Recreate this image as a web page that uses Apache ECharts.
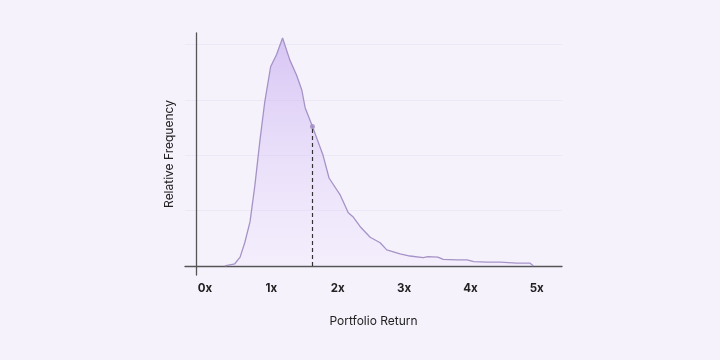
<!DOCTYPE html>
<html>
<head>
<meta charset="utf-8">
<style>
html,body{margin:0;padding:0;background:#f6f2fc;}
#chart{width:720px;height:360px;}
</style>
<script src="https://cdn.jsdelivr.net/npm/echarts@6/dist/echarts.min.js"></script>
</head>
<body>
<div id="chart"></div>
<script>
// Portfolio return multiples (x) and relative frequency (y)
const returns = [0.30,0.45,0.53,0.60,0.68,0.75,0.83,0.90,0.99,1.08,1.17,1.28,1.38,1.46,1.51,1.62,1.78,1.87,2.04,2.16,2.23,2.34,2.49,2.64,2.74,2.94,3.09,3.29,3.36,3.51,3.59,3.80,3.95,4.05,4.25,4.45,4.70,4.90,4.95];
const frequency = [0.00,0.04,0.16,0.42,0.80,1.43,2.28,2.95,3.60,3.82,4.12,3.72,3.45,3.18,2.86,2.52,2.00,1.59,1.28,0.96,0.89,0.71,0.52,0.42,0.29,0.22,0.18,0.15,0.17,0.16,0.12,0.11,0.11,0.08,0.07,0.07,0.05,0.05,0.00];
const xTicks = [0,1,2,3,4,5];
const yGrid = [1,2,3,4];
const medianReturn = 1.62;
const medianFreq = 2.52;

const chart = echarts.init(document.getElementById('chart'));
const font = 'Inter, "Noto Sans", sans-serif';
chart.setOption({
  backgroundColor: '#f6f2fc',
  animation: false,
  grid: {left: 185, right: 158, top: 33, bottom: 85},
  xAxis: {
    type: 'value', min: -0.3, max: 5.38,
    name: 'Portfolio Return', nameLocation: 'middle', nameGap: 40,
    nameTextStyle: {fontFamily: font, fontSize: 12, color: '#222'},
    axisLine: {show: true, onZero: true, lineStyle: {color: '#555', width: 1.3}},
    axisTick: {show: false},
    splitLine: {show: false},
    axisLabel: {customValues: xTicks, formatter: v => v + 'x', margin: 8,
      fontFamily: font, fontSize: 11.5, fontWeight: 'bold', color: '#222'}
  },
  yAxis: {
    type: 'value', min: -0.163, max: 4.21,
    offset: -11,
    name: 'Relative Frequency', nameLocation: 'middle', nameGap: 21, nameRotate: 90,
    nameTextStyle: {fontFamily: font, fontSize: 12, color: '#222'},
    axisLine: {show: true, onZero: false, lineStyle: {color: '#555', width: 1.3}},
    axisTick: {show: false, customValues: yGrid},
    axisLabel: {show: false, customValues: yGrid},
    splitLine: {show: true, lineStyle: {color: '#eee8f6', width: 1}}
  },
  series: [{
    type: 'line',
    data: returns.map((x, i) => [x, frequency[i]]),
    symbol: 'none',
    lineStyle: {color: '#a593c6', width: 1.3},
    areaStyle: {color: new echarts.graphic.LinearGradient(0,0,0,1,[
      {offset: 0, color: 'rgba(190,162,238,0.8)'},
      {offset: 1, color: 'rgba(230,215,252,0.25)'}
    ])},
    markLine: {
      silent: true, symbol: 'none', label: {show: false},
      lineStyle: {type: [4, 3], color: '#333', width: 1.2},
      data: [[{coord: [medianReturn, 0]}, {coord: [medianReturn, medianFreq]}]]
    },
    z: 2
  }, {
    type: 'scatter',
    data: [[medianReturn, medianFreq]],
    symbolSize: 5,
    itemStyle: {color: '#a08cc2'},
    z: 3
  }]
});
</script>
</body>
</html>
